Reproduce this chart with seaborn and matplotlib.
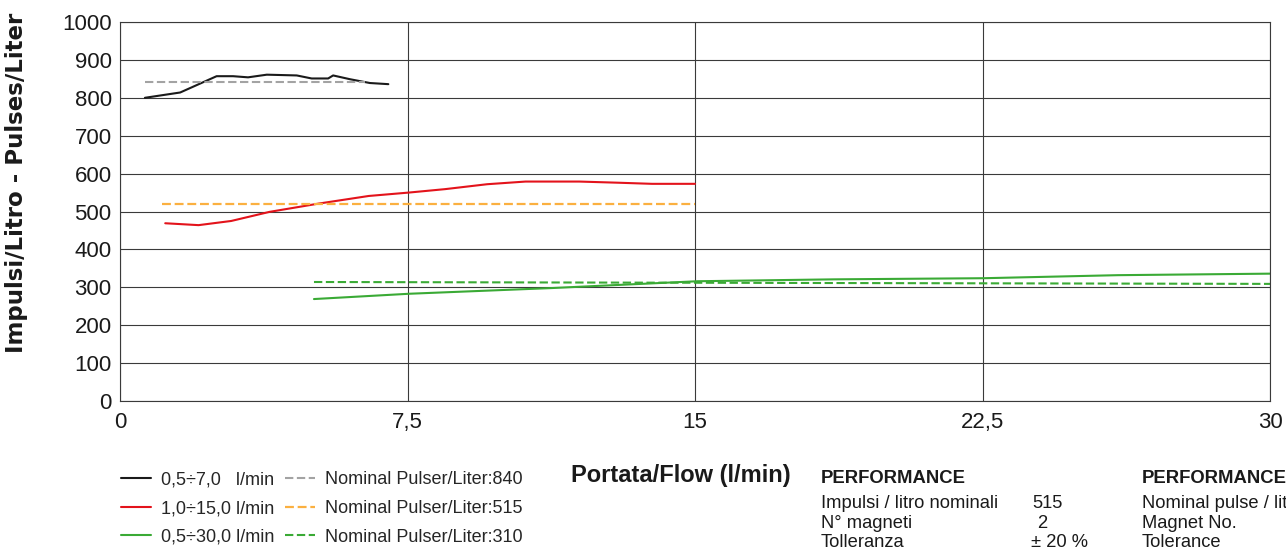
import matplotlib
matplotlib.use("Agg")
import matplotlib.pyplot as plt
from matplotlib import font_manager
import seaborn as sns

# --- data ---
x_07 = [0.65, 1.57, 2.52, 2.95, 3.34, 3.83, 4.61, 5.0, 5.43, 5.56, 6.0, 6.52, 7.0]
y_07 = [800, 814, 857, 857, 854, 861, 859, 851, 851, 859, 849, 839, 836]

x_15 = [1.18, 2.05, 2.9, 3.9, 5.19, 6.49, 7.54, 8.48, 9.58, 10.58, 11.98, 12.98, 13.88, 15.0]
y_15 = [469, 464, 475, 499, 521, 541, 550, 559, 572, 579, 579, 576, 573, 573]

x_30 = [5.06, 7.55, 11.26, 15.07, 18.64, 22.54, 26.03, 30.0]
y_30 = [269, 283, 298, 316, 321, 324, 332, 336]

nom_07_x = [0.65, 6.4]
nom_07_y = [841, 841]
nom_15_x = [1.1, 15.0]
nom_15_y = [521, 521]
nom_30_x = [5.06, 30.0]
nom_30_y = [314, 309]

series_labels = ["0,5÷7,0   l/min", "1,0÷15,0 l/min", "0,5÷30,0 l/min"]
nominal_labels = ["Nominal Pulser/Liter:840", "Nominal Pulser/Liter:515", "Nominal Pulser/Liter:310"]

x_ticks = [0, 7.5, 15, 22.5, 30]
x_tick_labels = ["0", "7,5", "15", "22,5", "30"]
y_ticks = list(range(0, 1001, 100))

perf_it = ["Impulsi / litro nominali", "N° magneti", "Tolleranza"]
perf_vals = ["515", "2", "± 20 %"]
perf_en = ["Nominal pulse / liter", "Magnet No.", "Tolerance"]

sns.set_theme(style="white")
names = {f.name for f in font_manager.fontManager.ttflist}
base_font = "Liberation Sans" if "Liberation Sans" in names else "DejaVu Sans"
plt.rcParams["font.family"] = [base_font, "DejaVu Sans"]

W, H = 1286, 548
fig = plt.figure(figsize=(W / 100, H / 100), dpi=100)
ax = fig.add_axes([120 / W, 147 / H, 1150 / W, 379 / H])

grid_col = "#3a3a3a"
dash = (0, (4, 1.7))
sns.lineplot(x=x_07, y=y_07, ax=ax, color="#1a1a1a", lw=1.5, label=series_labels[0])
sns.lineplot(x=nom_07_x, y=nom_07_y, ax=ax, color="#a3a3a3", lw=1.5,
             linestyle=dash, label=nominal_labels[0])
sns.lineplot(x=x_15, y=y_15, ax=ax, color="#e3131b", lw=1.5, label=series_labels[1])
sns.lineplot(x=nom_15_x, y=nom_15_y, ax=ax, color="#fbb040", lw=1.6,
             linestyle=dash, label=nominal_labels[1])
sns.lineplot(x=x_30, y=y_30, ax=ax, color="#3aaa35", lw=1.5, label=series_labels[2])
sns.lineplot(x=nom_30_x, y=nom_30_y, ax=ax, color="#3aaa35", lw=1.5,
             linestyle=dash, label=nominal_labels[2])

ax.set_xlim(0, 30)
ax.set_ylim(0, 1000)
ax.set_xticks(x_ticks)
ax.set_xticklabels(x_tick_labels)
ax.set_yticks(y_ticks)
ax.tick_params(axis="both", length=0, labelsize=16, colors="#1a1a1a")
ax.tick_params(axis="x", pad=8)
ax.tick_params(axis="y", pad=6)
ax.grid(True, color=grid_col, lw=0.8)
for sp in ax.spines.values():
    sp.set_color(grid_col)
    sp.set_linewidth(0.8)
ax.set_xlabel("")
ax.set_ylabel("Impulsi/Litro - Pulses/Liter", fontsize=16.5, fontweight="bold",
              family=["DejaVu Sans"], color="#1a1a1a")
ax.yaxis.set_label_coords((28 - 120) / 1150, (401 - 182.5) / 379)

handles, labels = ax.get_legend_handles_labels()
ax.get_legend().remove()
order = [0, 2, 4, 1, 3, 5]
fig.legend([handles[i] for i in order], [labels[i] for i in order],
           loc="upper left", bbox_to_anchor=(121 / W, 1 - 471.5 / H),
           ncol=2, frameon=False, fontsize=13, handlelength=1.66,
           handletextpad=0.53, columnspacing=0.62, labelspacing=0.64,
           borderpad=0, borderaxespad=0)

fig.text(681 / W, 1 - 482.3 / H, "Portata/Flow (l/min)", fontsize=17,
         fontweight="bold", ha="center", va="baseline", color="#1a1a1a")

fs = 13.2
fig.text(821 / W, 1 - 482.7 / H, "PERFORMANCE", fontsize=13.3, fontweight="bold",
         va="baseline", color="#1a1a1a")
fig.text(1141.5 / W, 1 - 482.7 / H, "PERFORMANCE", fontsize=13.3, fontweight="bold",
         va="baseline", color="#1a1a1a")
row_base = [508.3, 527.7, 546.7]
val_x = [1032, 1037, 1031]
for i in range(3):
    yy = 1 - row_base[i] / H
    fig.text(821 / W, yy, perf_it[i], fontsize=fs, va="baseline", color="#1a1a1a")
    fig.text(val_x[i] / W, yy, perf_vals[i], fontsize=fs, va="baseline", color="#1a1a1a")
    fig.text(1141.5 / W, yy, perf_en[i], fontsize=fs, va="baseline", color="#1a1a1a")

fig.savefig("out.png", dpi=100)
